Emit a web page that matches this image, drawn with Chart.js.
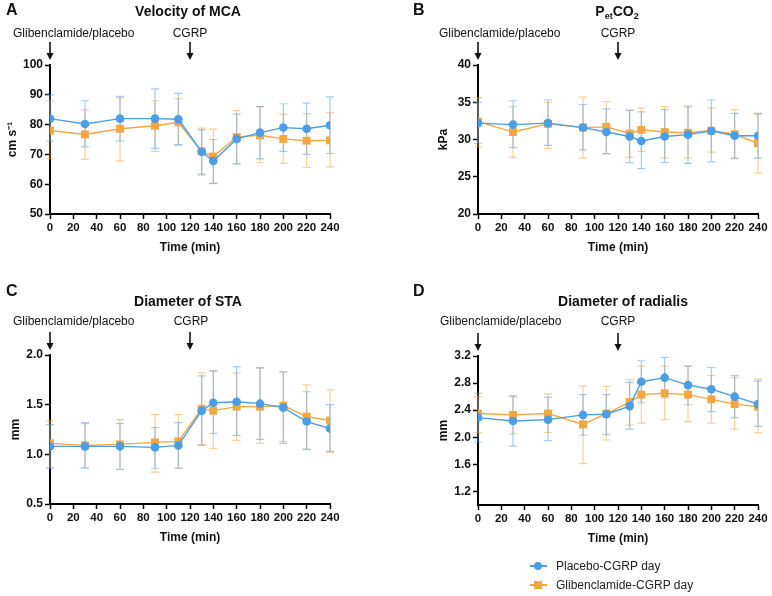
<!DOCTYPE html>
<html>
<head>
<meta charset="utf-8">
<script src="https://cdn.jsdelivr.net/npm/chart.js@4.4.1/dist/chart.umd.min.js"></script>
<style>
    body { margin: 0; background: #fff; font-family: "Liberation Sans", Arial, sans-serif; }
    #page { position: relative; width: 772px; height: 596px; overflow: hidden; }
    canvas { position: absolute; }
    .lbl { position: absolute; white-space: nowrap; color: #111; }
    .letter { font-weight: bold; font-size: 16px; transform: translateY(-50%); }
    .title { font-weight: bold; font-size: 14px; transform: translate(-50%, -50%); }
    .title sub { font-size: 9px; vertical-align: -3px; }
    .note { font-size: 12px; transform: translateY(-50%); }
    .note.mid { transform: translate(-50%, -50%); }
    .leg { position: absolute; font-size: 12px; color: #222; transform: translateY(-50%); white-space: nowrap; }
    .legline { position: absolute; width: 17px; height: 1.5px; }
    .legmark { position: absolute; width: 8px; height: 8px; }
</style>
</head>
<body>
<div id="page">
    <canvas id="chartA" width="344" height="290" style="left:0;top:0"></canvas>
    <canvas id="chartB" width="344" height="290" style="left:428px;top:0"></canvas>
    <canvas id="chartC" width="344" height="290" style="left:0;top:290px"></canvas>
    <canvas id="chartD" width="344" height="290" style="left:428px;top:291px"></canvas>

    <div class="lbl letter" style="left:6px;top:10px">A</div>
    <div class="lbl title" style="left:188px;top:11px">Velocity of MCA</div>
    <div class="lbl note" style="left:13px;top:33px">Glibenclamide/placebo</div>
    <div class="lbl note mid" style="left:190px;top:33px">CGRP</div>

    <div class="lbl letter" style="left:413px;top:10px">B</div>
    <div class="lbl title" style="left:617px;top:12px">P<sub>et</sub>CO<sub>2</sub></div>
    <div class="lbl note" style="left:439px;top:33px">Glibenclamide/placebo</div>
    <div class="lbl note mid" style="left:618px;top:33px">CGRP</div>

    <div class="lbl letter" style="left:6px;top:291px">C</div>
    <div class="lbl title" style="left:188px;top:301px">Diameter of STA</div>
    <div class="lbl note" style="left:13px;top:321px">Glibenclamide/placebo</div>
    <div class="lbl note mid" style="left:191px;top:321px">CGRP</div>

    <div class="lbl letter" style="left:413px;top:291px">D</div>
    <div class="lbl title" style="left:623px;top:301px">Diameter of radialis</div>
    <div class="lbl note" style="left:440px;top:321px">Glibenclamide/placebo</div>
    <div class="lbl note mid" style="left:618px;top:321px">CGRP</div>

    <div class="legline" style="left:530px;top:565px;background:#4a9ee8"></div>
    <div class="legmark" style="left:534px;top:562px;background:#4a9ee8;border-radius:50%"></div>
    <div class="leg" style="left:556px;top:566px">Placebo-CGRP day</div>
    <div class="legline" style="left:530px;top:584px;background:#f4a640"></div>
    <div class="legmark" style="left:534px;top:581px;background:#f4a640"></div>
    <div class="leg" style="left:556px;top:585px">Glibenclamide-CGRP day</div>
</div>
<script>
// sampling times (min) and x-axis ticks
const times = [0, 30, 60, 90, 110, 130, 140, 160, 180, 200, 220, 240];
const xTicks = [0, 20, 40, 60, 80, 100, 120, 140, 160, 180, 200, 220, 240];
const arrowTimes = [0, 120];

// A: velocity of MCA (cm s-1), mean and error bar ends
const mcaPlacebo   = [82.0, 80.2, 82.0, 82.0, 81.8, 70.9, 67.8, 75.2, 77.3, 79.0, 78.6, 79.8];
const mcaPlaceboHi = [90.0, 88.0, 89.5, 92.0, 90.5, 78.2, 75.0, 83.5, 86.0, 87.0, 87.2, 89.3];
const mcaPlaceboLo = [74.5, 72.5, 74.5, 72.0, 73.3, 63.4, 60.3, 66.8, 68.5, 71.0, 70.0, 70.3];
const mcaGlib      = [78.0, 76.7, 78.6, 79.6, 80.8, 71.0, 69.3, 75.8, 76.4, 75.2, 74.6, 74.7];
const mcaGlibHi    = [88.0, 85.0, 89.0, 88.0, 88.7, 78.8, 78.5, 84.7, 86.0, 83.5, 83.7, 84.0];
const mcaGlibLo    = [68.5, 68.3, 67.8, 71.0, 73.0, 63.0, 60.2, 66.8, 67.2, 67.0, 65.6, 65.8];

// B: PetCO2 (kPa)
const co2Placebo   = [32.2, 32.0, 32.2, 31.6, 31.0, 30.4, 29.8, 30.4, 30.65, 31.15, 30.5, 30.5];
const co2PlaceboHi = [35.0, 35.2, 35.3, 34.7, 34.1, 33.9, 33.7, 34.0, 34.5, 35.3, 33.5, 33.5];
const co2PlaceboLo = [29.5, 28.9, 29.2, 28.6, 28.1, 26.9, 26.1, 26.9, 26.8, 27.0, 27.5, 27.5];
const co2Glib      = [32.4, 31.0, 32.1, 31.6, 31.7, 30.8, 31.3, 31.0, 30.9, 31.2, 30.7, 29.5];
const co2GlibHi    = [35.6, 34.4, 35.0, 35.7, 35.1, 33.9, 34.2, 34.4, 34.3, 34.2, 34.0, 33.4];
const co2GlibLo    = [29.0, 27.6, 28.8, 27.5, 28.1, 27.6, 28.4, 27.5, 27.5, 28.3, 27.4, 25.5];

// C: diameter of STA (mm)
const staPlacebo   = [1.08, 1.08, 1.08, 1.07, 1.09, 1.44, 1.52, 1.53, 1.51, 1.47, 1.33, 1.26];
const staPlaceboHi = [1.30, 1.32, 1.31, 1.27, 1.32, 1.79, 1.84, 1.88, 1.87, 1.83, 1.63, 1.50];
const staPlaceboLo = [0.86, 0.86, 0.85, 0.86, 0.86, 1.09, 1.21, 1.19, 1.15, 1.11, 1.05, 1.03];
const staGlib      = [1.11, 1.09, 1.10, 1.12, 1.13, 1.46, 1.44, 1.48, 1.48, 1.49, 1.38, 1.34];
const staGlibHi    = [1.34, 1.31, 1.35, 1.40, 1.40, 1.82, 1.84, 1.82, 1.87, 1.83, 1.70, 1.65];
const staGlibLo    = [0.87, 0.87, 0.85, 0.82, 0.86, 1.10, 1.06, 1.14, 1.11, 1.13, 1.05, 1.02];

// D: diameter of radialis (mm)
const radPlacebo   = [2.29, 2.24, 2.26, 2.33, 2.34, 2.46, 2.82, 2.88, 2.77, 2.71, 2.60, 2.49];
const radPlaceboHi = [2.65, 2.61, 2.59, 2.63, 2.63, 2.81, 3.13, 3.18, 3.05, 3.03, 2.91, 2.83];
const radPlaceboLo = [1.93, 1.87, 1.95, 2.03, 2.04, 2.12, 2.51, 2.58, 2.48, 2.38, 2.29, 2.16];
const radGlib      = [2.35, 2.33, 2.35, 2.19, 2.35, 2.52, 2.63, 2.65, 2.63, 2.56, 2.49, 2.45];
const radGlibHi    = [2.60, 2.60, 2.64, 2.76, 2.75, 2.85, 3.05, 3.05, 3.05, 2.91, 2.88, 2.86];
const radGlibLo    = [2.07, 2.05, 2.07, 1.61, 1.96, 2.18, 2.21, 2.26, 2.23, 2.21, 2.12, 2.07];
const radTicks     = [1.2, 1.6, 2.0, 2.4, 2.8, 3.2];

const BLUE = '#4a9ee8';
const ORANGE = '#f4a640';
const FONT = '"Liberation Sans", Arial, sans-serif';

// error bars drawn under the lines, from the same scales
const errorBars = {
    id: 'errorBars',
    beforeDatasetsDraw(chart) {
        const { ctx, scales: { x, y } } = chart;
        ctx.save();
        ctx.lineWidth = 1.2;
        chart.data.datasets.slice().reverse().forEach(ds => {
            ctx.strokeStyle = ds.errColor;
            times.forEach((t, i) => {
                const px = x.getPixelForValue(t);
                const top = y.getPixelForValue(ds.errHi[i]);
                const bot = y.getPixelForValue(ds.errLo[i]);
                ctx.beginPath();
                ctx.moveTo(px, top); ctx.lineTo(px, bot);
                ctx.moveTo(px - 4, top); ctx.lineTo(px + 4, top);
                ctx.moveTo(px - 4, bot); ctx.lineTo(px + 4, bot);
                ctx.stroke();
            });
        });
        ctx.restore();
    }
};

// the two dosing arrows above the plot
const doseArrows = {
    id: 'doseArrows',
    afterDraw(chart) {
        const { ctx, chartArea, scales: { x } } = chart;
        ctx.save();
        ctx.strokeStyle = '#111';
        ctx.fillStyle = '#111';
        ctx.lineWidth = 1.6;
        arrowTimes.forEach(t => {
            const px = x.getPixelForValue(t);
            const y0 = chartArea.top - 23, y1 = chartArea.top - 5;
            ctx.beginPath();
            ctx.moveTo(px, y0); ctx.lineTo(px, y1 - 5);
            ctx.stroke();
            ctx.beginPath();
            ctx.moveTo(px - 3.5, y1 - 7); ctx.lineTo(px + 3.5, y1 - 7); ctx.lineTo(px, y1);
            ctx.closePath();
            ctx.fill();
        });
        ctx.restore();
    }
};

function series(label, vals, hi, lo, color, errColor, style, radius) {
    return {
        label: label,
        data: times.map((t, i) => ({ x: t, y: vals[i] })),
        errHi: hi,
        errLo: lo,
        errColor: errColor,
        borderColor: color,
        backgroundColor: color,
        borderWidth: 1.4,
        pointStyle: style,
        pointRadius: radius,
        pointBorderWidth: 0,
        tension: 0
    };
}

function makePanel(id, yTitle, titlePad, yScale, placebo, glib) {
    const axisCommon = {
        border: { color: '#000', width: 2 },
        grid: { drawOnChartArea: false, drawTicks: true, tickLength: 5, tickWidth: 1.5, tickColor: '#000' }
    };
    new Chart(document.getElementById(id), {
        type: 'line',
        data: {
            datasets: [
                series('Placebo-CGRP day', placebo[0], placebo[1], placebo[2], BLUE, 'rgba(90,160,230,0.55)', 'circle', 4.3),
                series('Glibenclamide-CGRP day', glib[0], glib[1], glib[2], ORANGE, 'rgba(245,170,70,0.55)', 'rect', 5.6)
            ]
        },
        options: {
            responsive: false,
            animation: false,
            layout: { padding: { top: 65, right: 14, bottom: 31, left: 0 } },
            plugins: { legend: { display: false }, tooltip: { enabled: false } },
            scales: {
                x: {
                    type: 'linear',
                    min: 0,
                    max: 240,
                    afterFit: s => { s.height = 45; },
                    afterBuildTicks: s => { s.ticks = xTicks.map(v => ({ value: v })); },
                    ticks: { autoSkip: false, maxRotation: 0, padding: 2, color: '#111', font: { family: FONT, size: 11.5, weight: 'bold' } },
                    title: { display: true, text: 'Time (min)', color: '#111', padding: { top: 0, bottom: 4 }, font: { family: FONT, size: 12, weight: 'bold' } },
                    ...axisCommon
                },
                y: Object.assign({
                    afterFit: s => { s.width = 50; },
                    title: { display: true, text: yTitle, color: '#111', padding: { top: titlePad, bottom: 0 }, font: { family: FONT, size: 12, weight: 'bold' } },
                    ...axisCommon
                }, yScale)
            }
        },
        plugins: [errorBars, doseArrows]
    });
}

const yTickFont = { family: FONT, size: 12, weight: 'bold' };

makePanel('chartA', 'cm s\u207B\u00B9', 5, {
    min: 50, max: 100,
    ticks: { stepSize: 10, padding: 2, color: '#111', font: yTickFont }
}, [mcaPlacebo, mcaPlaceboHi, mcaPlaceboLo], [mcaGlib, mcaGlibHi, mcaGlibLo]);

makePanel('chartB', 'kPa', 8, {
    min: 20, max: 40,
    ticks: { stepSize: 5, padding: 2, color: '#111', font: yTickFont }
}, [co2Placebo, co2PlaceboHi, co2PlaceboLo], [co2Glib, co2GlibHi, co2GlibLo]);

makePanel('chartC', 'mm', 8, {
    min: 0.5, max: 2.0,
    ticks: { stepSize: 0.5, padding: 2, color: '#111', font: yTickFont, callback: v => v.toFixed(1) }
}, [staPlacebo, staPlaceboHi, staPlaceboLo], [staGlib, staGlibHi, staGlibLo]);

makePanel('chartD', 'mm', 8, {
    min: 1.0, max: 3.2,
    afterBuildTicks: s => { s.ticks = radTicks.map(v => ({ value: v })); },
    ticks: { padding: 2, color: '#111', font: yTickFont, callback: v => v.toFixed(1) }
}, [radPlacebo, radPlaceboHi, radPlaceboLo], [radGlib, radGlibHi, radGlibLo]);
</script>
</body>
</html>
